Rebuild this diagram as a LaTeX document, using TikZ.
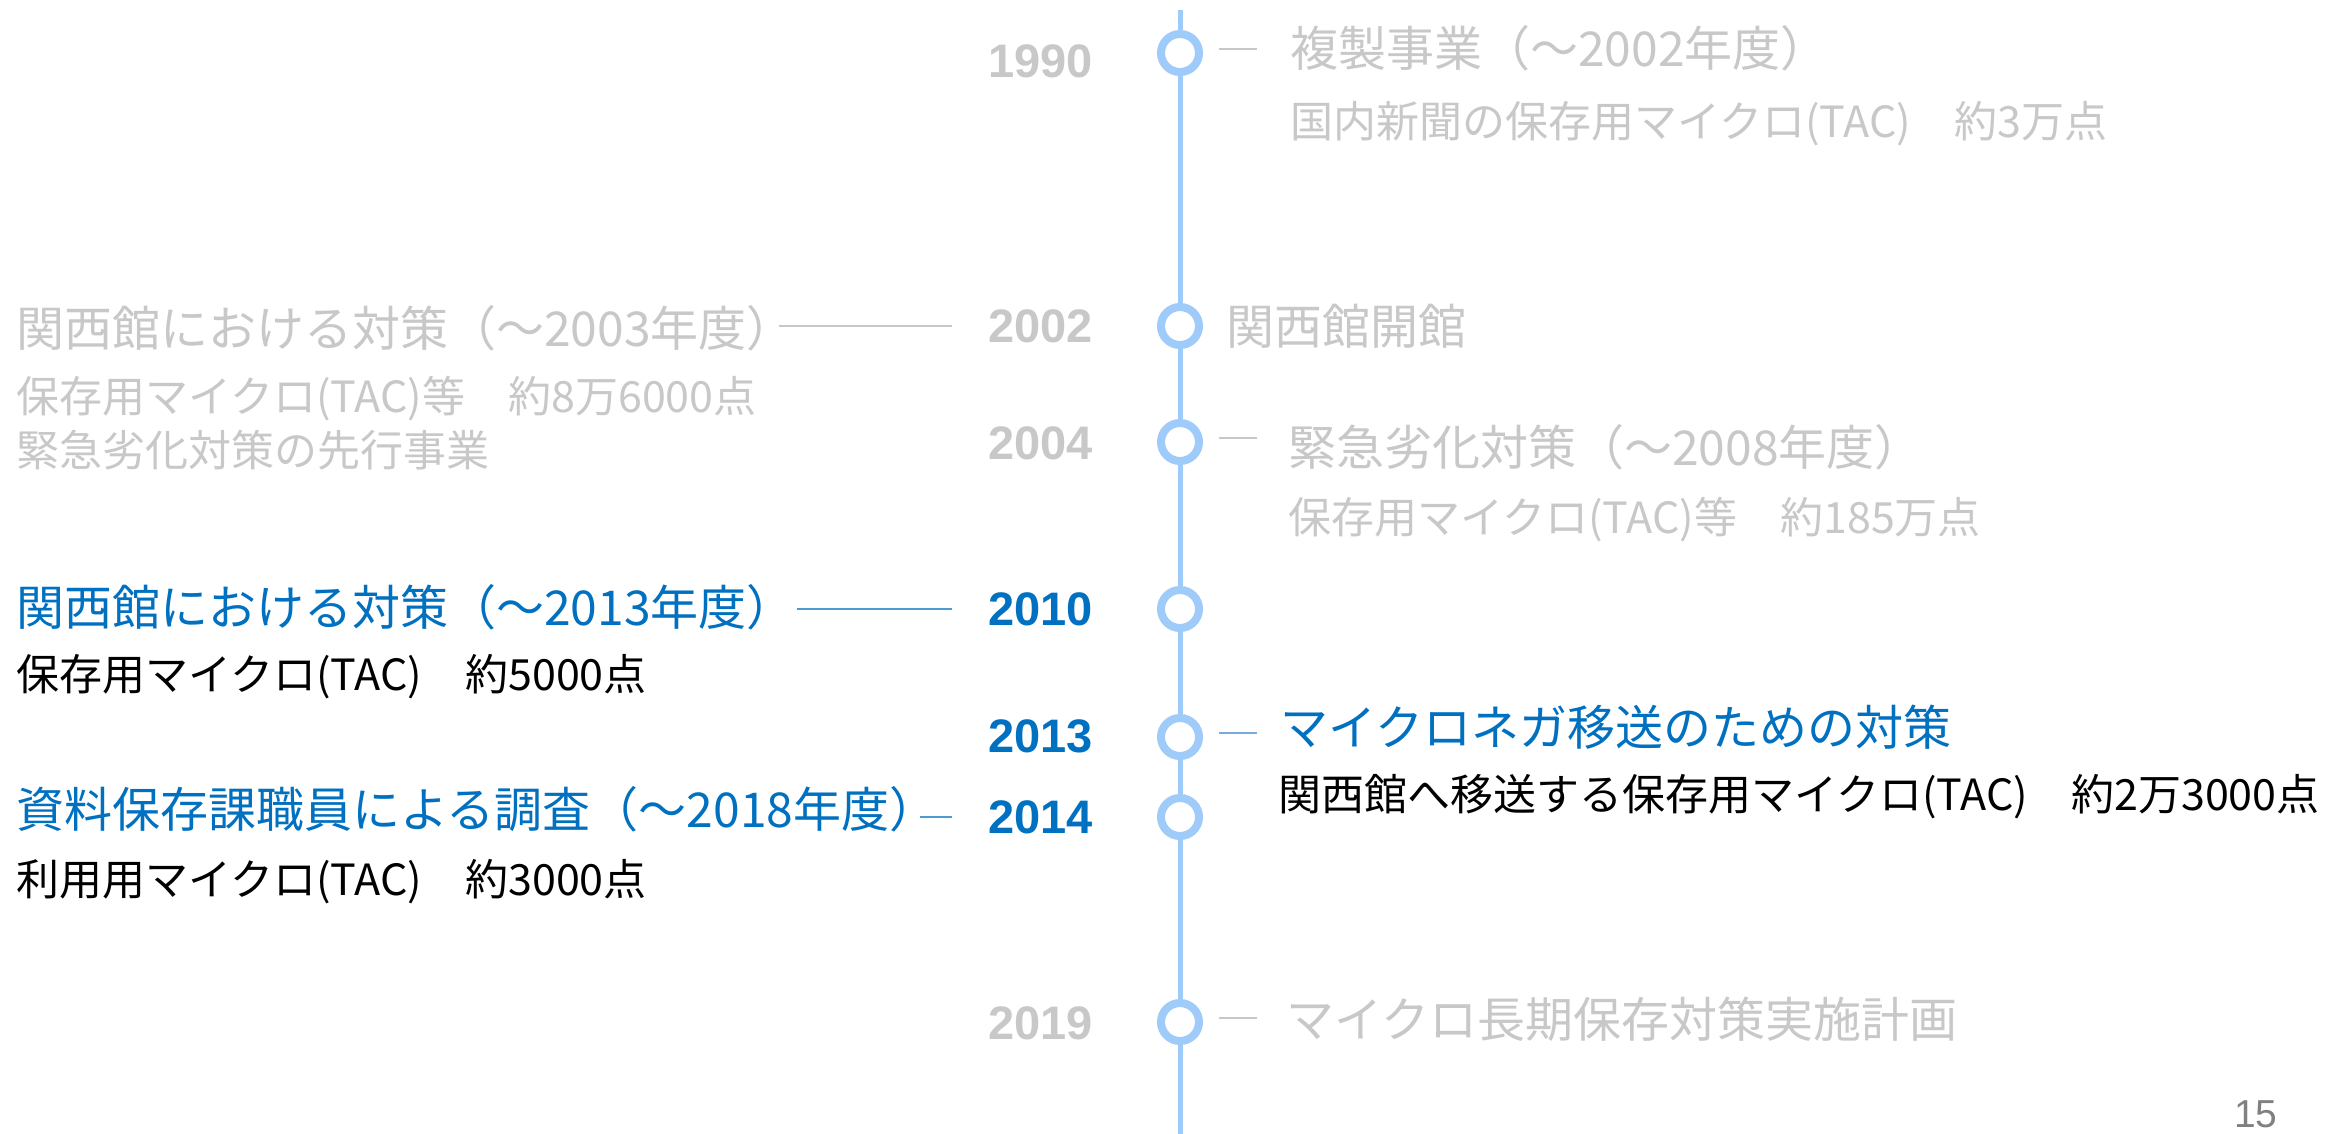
\documentclass[tikz,border=0pt]{standalone}
\usepackage{fontspec}
\newfontfamily\jp{Noto Sans CJK JP}
\newfontfamily\yr{Liberation Sans}
\usetikzlibrary{calc}
\definecolor{tlblue}{RGB}{158,203,250}
\definecolor{txgray}{RGB}{200,200,200}
\definecolor{txblue}{RGB}{0,112,192}
\definecolor{dashblue}{RGB}{120,170,220}
\definecolor{pggray}{RGB}{128,128,128}
\tikzset{
  ring/.style={circle, draw=tlblue, line width=8pt, fill=white, minimum size=38pt, inner sep=0pt},
  spine/.style={draw=tlblue, line width=5pt},
  year/.style={anchor=east, font=\yr\bfseries\fontsize{47}{50}\selectfont, inner sep=0pt},
  ttl/.style={anchor=west, font=\jp\fontsize{48}{54}\selectfont, inner sep=0pt},
  sbt/.style={anchor=west, font=\jp\fontsize{43}{52}\selectfont, inner sep=0pt},
  tick/.style={line width=2pt},
  lead/.style={line width=2pt},
}
\begin{document}
\begin{tikzpicture}[x=1pt,y=-1pt]
\useasboundingbox[fill=white] (0,0) rectangle (2325,1133);

% spine
\coordinate (top) at (1180,10);
\coordinate (bot) at (1180,1140);

% circles
\node[ring] (c1990) at (1180,53) {};
\node[ring] (c2002) at (1180,326) {};
\node[ring] (c2004) at (1180,442) {};
\node[ring] (c2010) at (1180,609) {};
\node[ring] (c2013) at (1180,737) {};
\node[ring] (c2014) at (1180,817) {};
\node[ring] (c2019) at (1180,1022) {};

\draw[spine] (top) -- (c1990) -- (c2002) -- (c2004) -- (c2010) -- (c2013) -- (c2014) -- (c2019) -- (bot);

% years
\node[year, text=txgray] (y1990) at (1093,61) {1990};
\node[year, text=txgray] (y2002) at (1093,326) {2002};
\node[year, text=txgray] (y2004) at (1093,443) {2004};
\node[year, text=txblue] (y2010) at (1093,609) {2010};
\node[year, text=txblue] (y2013) at (1093,736) {2013};
\node[year, text=txblue] (y2014) at (1093,817) {2014};
\node[year, text=txgray] (y2019) at (1093,1023) {2019};

% right side texts
\node[ttl, text=txgray] (t1990) at (1290,48) {複製事業（～2002年度）};
\node[sbt, text=txgray] (s1990) at (1290,124) {国内新聞の保存用マイクロ(TAC)　約3万点};
\node[ttl, text=txgray] (t2002r) at (1226,326) {関西館開館};
\node[ttl, text=txgray] (t2004) at (1288,447) {緊急劣化対策（～2008年度）};
\node[sbt, text=txgray] (s2004) at (1288,520) {保存用マイクロ(TAC)等　約185万点};
\node[ttl, text=txblue] (t2013) at (1280,727) {マイクロネガ移送のための対策};
\node[sbt, text=black] (s2013) at (1278,797) {関西館へ移送する保存用マイクロ(TAC)　約2万3000点};
\node[ttl, text=txgray] (t2019) at (1286,1019) {マイクロ長期保存対策実施計画};

% ticks
\draw[tick, txgray] ($(c1990.east)+(16,-4)$) -- ++(38,0);
\draw[tick, txgray] ($(c2004.east)+(16,-4)$) -- ++(38,0);
\draw[tick, dashblue] ($(c2013.east)+(16,-4)$) -- ++(38,0);
\draw[tick, txgray] ($(c2019.east)+(16,-4)$) -- ++(38,0);

% left side texts
\node[ttl, text=txgray] (t2002l) at (16,328) {関西館における対策（～2003年度）};
\node[sbt, text=txgray] (s2002a) at (16,399) {保存用マイクロ(TAC)等　約8万6000点};
\node[sbt, text=txgray] (s2002b) at (16,450) {緊急劣化対策の先行事業};
\node[ttl, text=txblue] (t2010) at (16,607) {関西館における対策（～2013年度）};
\node[sbt, text=black] (s2010) at (16,677) {保存用マイクロ(TAC)　約5000点};
\node[ttl, text=txblue] (t2014) at (16,809) {資料保存課職員による調査（～2018年度）};
\node[sbt, text=black] (s2014) at (16,882) {利用用マイクロ(TAC)　約3000点};

% leader lines
\coordinate (l2002) at ($(t2002l.east)+(-16,0)$);
\coordinate (l2010) at ($(t2010.east)+(2,0)$);
\coordinate (l2014) at ($(t2014.east)+(-18,0)$);
\draw[lead, txgray, shorten >=36pt] (l2002 |- y2002.west) -- (y2002.west);
\draw[lead, txblue!70, shorten >=36pt] (l2010 |- y2010.west) -- (y2010.west);
\draw[lead, txblue!70, shorten >=36pt] (l2014 |- y2014.west) -- (y2014.west);

% page number
\node[anchor=north west, inner sep=0pt, text=pggray, font=\yr\fontsize{39}{44}\selectfont] (pg) at (2234,1100) {15};
\end{tikzpicture}
\end{document}
